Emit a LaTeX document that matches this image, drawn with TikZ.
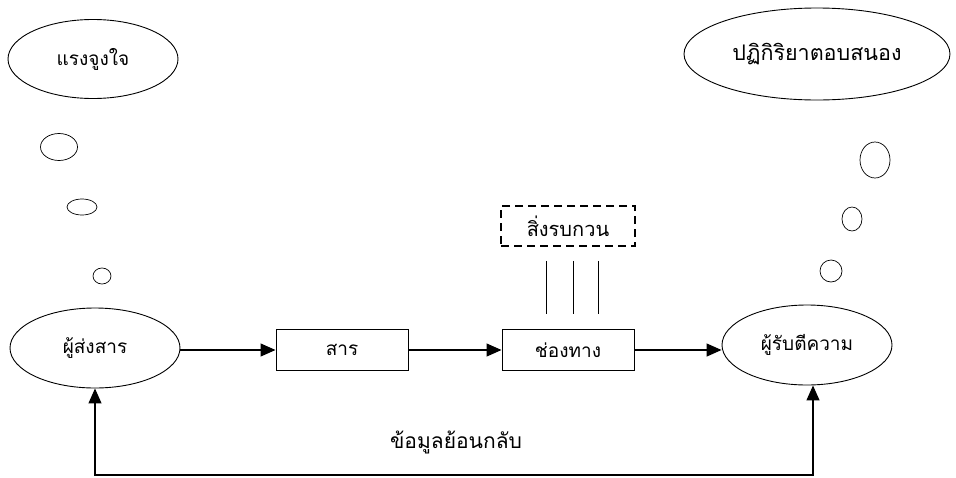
\documentclass[tikz,border=0pt]{standalone}
\usepackage{fontspec}
\newfontfamily\thaifont[Script=Thai]{Loma}
\usetikzlibrary{shapes.geometric,arrows.meta}
\begin{document}
\begin{tikzpicture}[x=1pt,y=-1pt,
  thai/.style={font=\thaifont\fontsize{#1}{#1}\selectfont},
  bubble/.style={ellipse,draw,line width=0.9pt,inner sep=0pt,thai=19},
  dot/.style={ellipse,draw,line width=0.7pt,inner sep=0pt},
  stepbox/.style={rectangle,draw,line width=1pt,minimum width=132pt,minimum height=41pt,inner sep=0pt,thai=19},
  noisebox/.style={stepbox,line width=1.8pt,dash pattern=on 8pt off 5pt},
  tip/.tip={Triangle[length=15pt,width=13pt]},
  flow/.style={line width=1.3pt,-tip}]
\useasboundingbox (0,0) rectangle (956,477);

% thought clouds above sender and receiver
\node[bubble,minimum width=170pt,minimum height=79pt] (motive) at (93,59) {แรงจูงใจ};
\node[bubble,minimum width=266pt,minimum height=92pt,thai=21.5] (response) at (817,54) {ปฏิกิริยาตอบสนอง};

\node[dot,minimum width=37pt,minimum height=27pt] (l1) at (59,147) {};
\node[dot,minimum width=30pt,minimum height=16pt] (l2) at (82,207) {};
\node[dot,minimum width=18pt,minimum height=16pt] (l3) at (102,276) {};

\node[dot,minimum width=30pt,minimum height=36pt] (r1) at (875,160) {};
\node[dot,minimum width=20pt,minimum height=24pt] (r2) at (852,219) {};
\node[dot,minimum width=22pt,minimum height=22pt] (r3) at (831,271) {};

% main communication chain
\node[bubble,minimum width=170pt,minimum height=80pt] (sender) at (95,348) {ผู้ส่งสาร};
\node[stepbox] (message) at (342,350) {สาร};
\node[stepbox] (channel) at (568,350) {ช่องทาง};
\node[bubble,minimum width=170pt,minimum height=80pt] (receiver) at (807,345) {ผู้รับตีความ};

\node[noisebox,minimum width=134pt,minimum height=40pt,thai=20] (noise) at (568,226) {สิ่งรบกวน};

\draw[flow] (sender.east |- message.west) -- (message.west);
\draw[flow] (message.east) -- (channel.west);
\draw[flow] (channel.east) -- (receiver.west |- channel.east);

% interference lines between noise and channel
\foreach \dx in {-22,5,30}
  \draw[line width=1pt] ([xshift=\dx pt,yshift=-14pt]noise.south) -- ([xshift=\dx pt,yshift=15pt]channel.north);

% feedback loop
\coordinate (fbL) at (95,475);
\coordinate (fbR) at (813,475);
\draw[line width=1.3pt,tip-tip] (sender.south) -- (fbL) -- (fbR) -- (fbR |- receiver.south);
\node[thai=21] (fblabel) at (456,442) {ข้อมูลย้อนกลับ};
\end{tikzpicture}
\end{document}
